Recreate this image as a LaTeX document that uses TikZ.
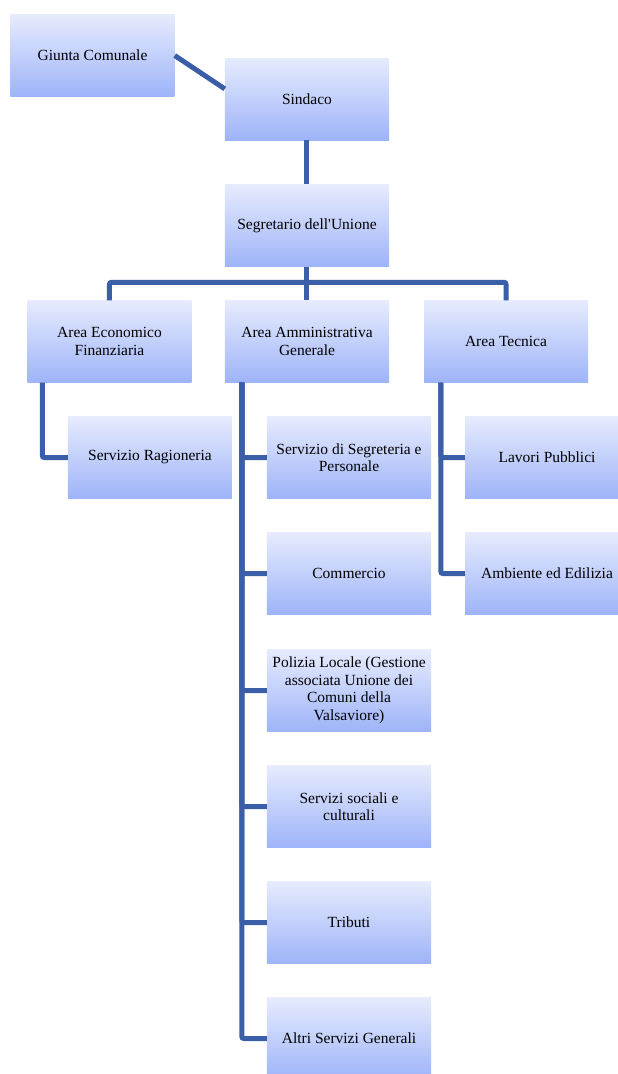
\documentclass[tikz,border=0pt]{standalone}
\usepackage{fontspec}
\setmainfont{Liberation Serif}
\definecolor{boxtop}{RGB}{230,235,253}
\definecolor{boxbot}{RGB}{158,180,249}
\definecolor{linkcol}{RGB}{59,94,168}
\begin{document}
\begin{tikzpicture}[
rect/.style={
top color=boxtop,
bottom color=boxbot,
align=center,
minimum width=164pt,
minimum height=82pt,
font=\fontsize{15.5pt}{17.5pt}\selectfont
},
link/.style={
draw=linkcol,
line width=5pt
},node distance=116pt
]
\clip (-307pt,-975pt) rectangle (311pt,99pt);
\node[rect] (2) {Sindaco};
\node[rect] (1) at ([xshift=-214.5pt,yshift=43.5pt]2) {Giunta Comunale};
\node[rect, node distance=126.5pt, below of=2] (3) {Segretario dell\textquotesingle Unione};
\node[rect, below of=3] (5) {Area Amministrativa\\Generale};
\node[rect, node distance=197.5pt, left of=5] (4) {Area Economico\\Finanziaria};
\node[rect, node distance=199pt, right of=5] (6) {Area Tecnica};
\node[rect, below of=4, xshift=40.5pt] (7) {Servizio Ragioneria};
\node[rect, below of=5, xshift=42pt] (8) {Servizio di Segreteria e\\Personale};
\node[rect, below of=8] (9) {Commercio};
\node[rect, below of=9, yshift=-1pt] (10) {Polizia Locale (Gestione\\associata Unione dei\\Comuni della\\Valsaviore)};
\node[rect, below of=10] (11) {Servizi sociali e\\culturali};
\node[rect, below of=11] (12) {Tributi};
\node[rect, below of=12] (13) {Altri Servizi Generali};
\node[rect, below of=6, xshift=41pt] (14) {Lavori Pubblici};
\node[rect, below of=14] (15) {Ambiente ed Edilizia};

\draw[link] (1.east) -- (2.173);
\draw[link] (2) -- (3);
\draw[link] (3) -- (5);
\draw[link, rounded corners=2pt] (4.north) -- ++(0,18pt) -| (6.north);
\draw[link, rounded corners=2pt] ([xshift=15pt]4.south west) |- (7.west);
\foreach \n in {8,...,13}
\draw[link, rounded corners=2pt] ([xshift=17pt]5.south west) |- (\n.west);
\foreach \n in {14,15}
\draw[link, rounded corners=2pt] ([xshift=17pt]6.south west) |- (\n.west);

\end{tikzpicture}
\end{document}
